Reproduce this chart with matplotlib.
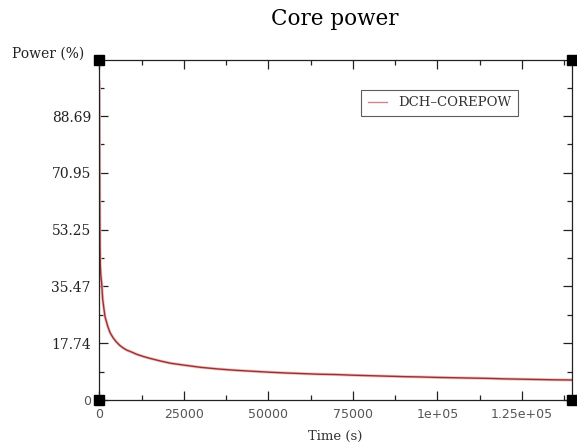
import matplotlib
matplotlib.use('Agg')
import matplotlib.pyplot as plt
from matplotlib.lines import Line2D
from matplotlib.ticker import FixedLocator, FixedFormatter

# core power history (time in s, power in % of nominal)
time_s = [0, 60, 120, 200, 300, 450, 700, 1000, 1300, 1700, 2500, 3200,
          4100, 5000, 6000, 7000, 8100, 9500, 11000, 13000, 15000, 18000,
          21000, 25000, 30000, 35000, 40000, 45000, 50000, 55000, 60000,
          65000, 70000, 75000, 80000, 85000, 90000, 95000, 100000, 105000,
          110000, 115000, 120000, 125000, 130000, 135000, 139700]
power_pct = [99.6, 80.0, 62.0, 48.0, 42.0, 39.0, 36.5, 31.5, 29.0, 26.0,
             23.0, 21.0, 19.4, 18.2, 17.1, 16.3, 15.6, 15.0, 14.3, 13.6,
             13.0, 12.2, 11.5, 10.9, 10.2, 9.7, 9.3, 9.0, 8.7, 8.45, 8.25,
             8.05, 7.95, 7.75, 7.6, 7.45, 7.3, 7.2, 7.05, 6.95, 6.85, 6.75,
             6.6, 6.5, 6.4, 6.3, 6.25]

x_major = [0, 25000, 50000, 75000, 100000, 125000]
x_labels = ["0", "25000", "50000", "75000", "1e+05", "1.25e+05"]
x_minor = [12500, 37500, 62500, 87500, 112500, 137500]
y_major = [0, 17.74, 35.47, 53.25, 70.95, 88.69]
y_labels = ["0", "17.74", "35.47", "53.25", "70.95", "88.69"]
y_minor = [8.87, 26.6, 44.36, 62.1, 79.82, 97.56]

X_MAX = 139700
Y_MAX = 106.2

fig = plt.figure(figsize=(5.77, 4.48), dpi=100)
ax = fig.add_axes([99.3 / 577, 48 / 448, 472.2 / 577, 340 / 448])

ax.plot(time_s, power_pct, color='#eec4c4', linewidth=2.2, solid_capstyle='round')
ax.plot(time_s, power_pct, color='#9c3030', linewidth=1.0)

ax.set_xlim(0, X_MAX)
ax.set_ylim(0, Y_MAX)

ax.xaxis.set_major_locator(FixedLocator(x_major))
ax.xaxis.set_major_formatter(FixedFormatter(x_labels))
ax.xaxis.set_minor_locator(FixedLocator(x_minor))
ax.yaxis.set_major_locator(FixedLocator(y_major))
ax.yaxis.set_major_formatter(FixedFormatter(y_labels))
ax.yaxis.set_minor_locator(FixedLocator(y_minor))

ax.tick_params(which='both', direction='in', top=True, right=True,
               color='#222222', width=0.9)
ax.tick_params(which='major', length=6.5)
ax.tick_params(which='minor', length=3.5)
ax.tick_params(axis='x', labelsize=9, labelcolor='#555555', pad=6)
ax.tick_params(axis='y', labelsize=10, labelcolor='#222222', pad=6)
for lbl in ax.get_yticklabels():
    lbl.set_family('DejaVu Serif')
ylbls = ax.get_yticklabels()
ylbls[0].set_family('DejaVu Sans')
ylbls[0].set_color('#555555')
ylbls[0].set_fontsize(9)

for sp in ax.spines.values():
    sp.set_linewidth(0.9)
    sp.set_color('#222222')

# black squares on the frame corners
ax.plot([0, 1, 0, 1], [0, 0, 1, 1], 's', color='black', markersize=6.5,
        transform=ax.transAxes, clip_on=False, zorder=5)

handle = Line2D([], [], color='#cc8888', linewidth=1.0)
leg = ax.legend([handle], ["DCH\u2013COREPOW"], loc='upper right',
                bbox_to_anchor=(0.9, 0.932), fancybox=False,
                prop={'family': 'DejaVu Serif', 'size': 9.5},
                handlelength=1.5, borderpad=0.5, handletextpad=0.8)
leg.get_frame().set_edgecolor('#333333')
leg.get_frame().set_linewidth(0.8)
for t in leg.get_texts():
    t.set_color('#333333')

fig.text(335 / 577, 1 - 19 / 448, "Core power", ha='center', va='center',
         fontsize=15.5, family='DejaVu Serif')
fig.text(12 / 577, 1 - 54 / 448, "Power (%)", ha='left', va='center',
         fontsize=10, family='DejaVu Serif', color='#222222')
fig.text(335 / 577, 1 - 436 / 448, "Time (s)", ha='center', va='center',
         fontsize=9.5, family='DejaVu Serif', color='#333333')

fig.savefig('out.png', dpi=100)
